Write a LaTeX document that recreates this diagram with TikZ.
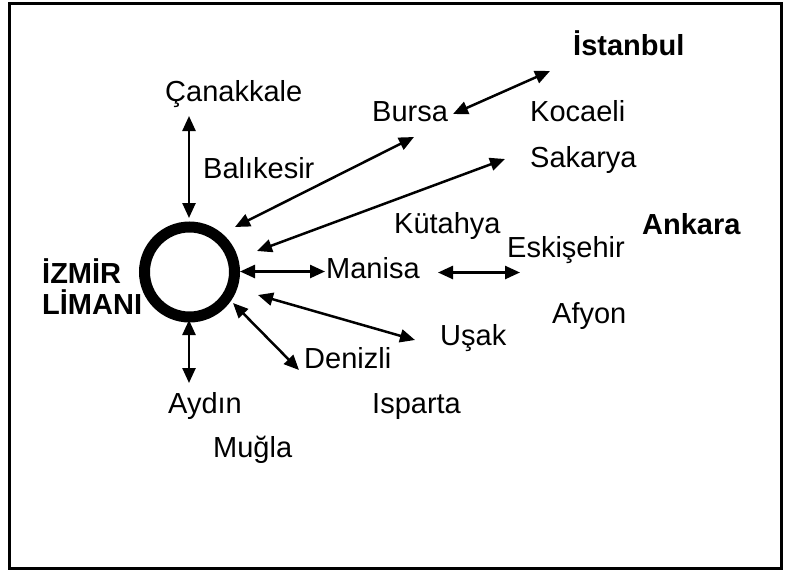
\documentclass[tikz,border=0pt]{standalone}
\usepackage{fontspec}
\setmainfont{Liberation Sans}
\usetikzlibrary{arrows.meta}

\begin{document}
\begin{tikzpicture}[x=1pt,y=-1pt,
  city/.style={anchor=base west,inner sep=0pt,font=\fontsize{29}{34}\selectfont},
  capital/.style={city,font=\fontsize{29}{34}\selectfont\bfseries},
  link/.style={line width=2.5pt,{Triangle[length=15pt,width=13pt]}-{Triangle[length=15pt,width=13pt]}}]

\useasboundingbox (0,0) rectangle (787,571);
\draw[line width=3pt] (9,3) rectangle (781,568);

% port of Izmir
\node[circle,draw,line width=11pt,minimum size=90pt,inner sep=0pt] (port) at (189.5,272) {};
\node[capital] (izmir) at (42,283) {İZMİR};
\node[capital] (liman) at (42,314) {LİMANI};

% destinations
\node[city] (canakkale) at (165,101) {Çanakkale};
\node[city] (balikesir) at (203,178) {Balıkesir};
\node[city] (bursa) at (372,121) {Bursa};
\node[capital] (istanbul) at (573,55) {İstanbul};
\node[city] (kocaeli) at (530,121) {Kocaeli};
\node[city] (sakarya) at (530,167) {Sakarya};
\node[city] (kutahya) at (394,233) {Kütahya};
\node[capital] (ankara) at (642,234) {Ankara};
\node[city] (eskisehir) at (507,257) {Eskişehir};
\node[city] (manisa) at (326,278) {Manisa};
\node[city] (afyon) at (552,323) {Afyon};
\node[city] (usak) at (440,345) {Uşak};
\node[city] (denizli) at (304,368) {Denizli};
\node[city] (aydin) at (168,413) {Aydın};
\node[city] (isparta) at (372,413) {Isparta};
\node[city] (mugla) at (213,457) {Muğla};

% arrow end points
\coordinate (pN) at (189,218);
\coordinate (cN) at (189,116);
\coordinate (pS) at (189,320);
\coordinate (cS) at (189,383);
\coordinate (pB) at (235,227);
\coordinate (cB) at (414,137);
\coordinate (pK) at (257,251);
\coordinate (cK) at (505,159);
\coordinate (pE) at (240,271.5);
\coordinate (cE) at (325,271.5);
\coordinate (mE1) at (438,272.5);
\coordinate (mE2) at (520,272.5);
\coordinate (pU) at (258,295);
\coordinate (cU) at (415,340);
\coordinate (pD) at (233,303);
\coordinate (cD) at (299,370);
\coordinate (bI1) at (453,114);
\coordinate (bI2) at (550,71);

\draw[link] (cN) -- (pN);
\draw[link] (pS) -- (cS);
\draw[link] (pB) -- (cB);
\draw[link] (pK) -- (cK);
\draw[link] (pE) -- (cE);
\draw[link] (mE1) -- (mE2);
\draw[link] (pU) -- (cU);
\draw[link] (pD) -- (cD);
\draw[link] (bI1) -- (bI2);
\end{tikzpicture}
\end{document}
